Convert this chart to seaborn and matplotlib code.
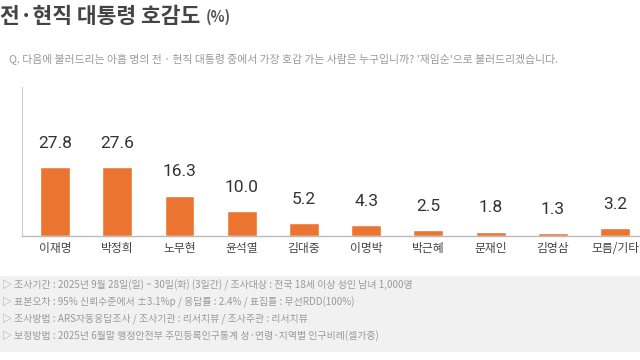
import matplotlib
matplotlib.use("Agg")
import matplotlib.pyplot as plt
import seaborn as sns
import pandas as pd

# data
names = ["이재명", "박정희", "노무현", "윤석열", "김대중", "이명박", "박근혜", "문재인", "김영삼", "모름/기타"]
values = [27.8, 27.6, 16.3, 10.0, 5.2, 4.3, 2.5, 1.8, 1.3, 3.2]

title = "전·현직 대통령 호감도"
question = "Q. 다음에 불러드리는 아홉 명의 전 · 현직 대통령 중에서 가장 호감 가는 사람은 누구입니까? '재임순'으로 불러드리겠습니다."
notes = [
    "▷ 조사기간 : 2025년 9월 28일(일) ~ 30일(화) (3일간) / 조사대상 : 전국 18세 이상 성인 남녀 1,000명",
    "▷ 표본오차 : 95% 신뢰수준에서 ±3.1%p / 응답률 : 2.4% / 표집틀 : 무선RDD(100%)",
    "▷ 조사방법 : ARS자동응답조사 / 조사기관 : 리서치뷰 / 조사주관 : 리서치뷰",
    "▷ 보정방법 : 2025년 6월말 행정안전부 주민등록인구통계 성·연령·지역별 인구비례(셀가중)",
]

sns.set_style("white")
plt.rcParams['font.family'] = ['Noto Sans CJK KR', 'DejaVu Sans']

df = pd.DataFrame({"name": names, "value": values})

fig = plt.figure(figsize=(6.4, 3.6), dpi=100)
ax = fig.add_axes([22 / 640, 124 / 360, 618 / 640, 149 / 360])

sns.barplot(data=df, x="name", y="value", color="#EB7530", width=0.48,
            saturation=1, ax=ax)
ax.set_xlim(-0.53, 9.4)
ax.set_ylim(0, 60)
ax.set_xlabel("")
ax.set_ylabel("")
ax.set_yticks([])
ax.tick_params(axis="x", length=0, pad=4, labelsize=8.5, labelcolor="#444444")

for s in ["top", "right"]:
    ax.spines[s].set_visible(False)
ax.spines["left"].set_color("#cccccc")
ax.spines["left"].set_linewidth(0.8)
ax.spines["bottom"].set_color("#bbbbbb")
ax.spines["bottom"].set_linewidth(1.0)

for i, v in enumerate(values):
    ax.text(i, v + 6.5, f"{v:.1f}", ha="center", va="bottom", fontsize=12.5,
            color="#333333", family="Roboto", fontstretch="condensed")

# title and question
fig.text(0.0, 0.955, title, ha="left", va="center", fontsize=15.5,
         fontweight="bold", color="#444444")
fig.text(0.322, 0.952, "(%)", ha="left", va="center", fontsize=10.5,
         fontweight="bold", color="#555555")
fig.text(0.014, 0.838, question, ha="left", va="center", fontsize=7.8,
         color="#999999")

# footnote box
fig.patches.append(plt.Rectangle((0, 8 / 360), 1, 76 / 360, transform=fig.transFigure,
                                 facecolor="#f1f1f1", edgecolor="none", zorder=0))
for k, line in enumerate(notes):
    fig.text(0.003, (360 - 285 - k * 17) / 360, line, ha="left", va="center",
             fontsize=7.1, color="#9a9a9a")

fig.savefig("out.png", dpi=100)
